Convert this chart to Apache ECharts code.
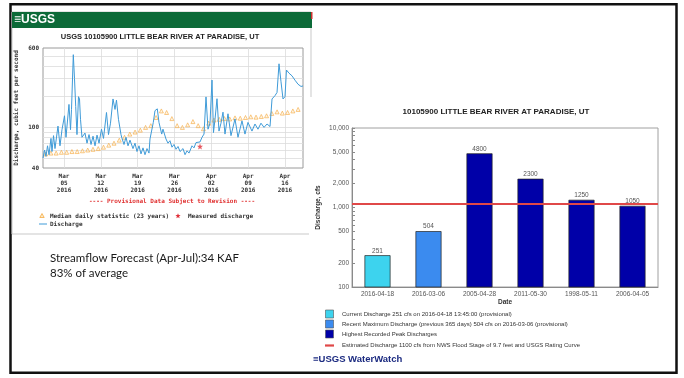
<!DOCTYPE html>
<html>
<head>
<meta charset="utf-8">
<script src="https://cdn.jsdelivr.net/npm/echarts@6/dist/echarts.min.js"></script>
<style>
html,body{margin:0;padding:0;background:#fff;}
#slide{width:684px;height:378px;}
</style>
</head>
<body>
<div id="slide"></div>
<script>
// ---- USGS 10105900 Little Bear River at Paradise, UT ----
// Discharge trace: days since 2016-03-01 00:00, cfs
const flowDays = [0.00,0.29,0.57,0.86,1.14,1.52,1.71,2.00,2.28,2.85,3.23,3.61,4.09,4.37,4.94,5.23,5.42,5.76,5.99,6.22,6.46,6.75,6.94,7.13,7.41,7.60,7.98,8.37,8.75,9.13,9.51,9.89,10.27,10.65,11.12,11.50,12.07,12.45,12.83,13.31,13.69,13.97,14.35,14.83,15.02,15.40,15.78,16.16,16.54,17.11,17.49,17.87,18.25,18.63,19.01,19.39,19.77,20.15,20.34,20.97,21.29,21.62,21.73,22.05,22.57,22.81,23.38,23.76,24.14,24.52,24.90,25.29,25.67,26.05,26.62,27.00,27.38,27.76,28.33,28.71,29.09,29.47,29.85,30.23,30.61,30.99,31.37,31.75,32.13,32.41,32.70,33.08,33.46,33.84,34.22,34.60,35.17,35.74,36.50,37.07,37.83,38.40,38.97,39.73,40.30,40.87,41.44,42.02,42.59,43.16,43.54,44.11,44.49,44.87,45.25,45.63,46.01,46.29,46.77,47.34,47.91,48.48,49.05,49.43];
const flowCfs = [50,60,52,66,54,78,58,83,62,103,66,95,130,80,168,95,150,516,300,160,85,200,190,120,80,77,88,70,85,68,82,66,84,70,96,78,140,85,110,190,150,185,120,85,78,68,80,66,75,62,70,58,66,55,63,54,62,56,77,112,146,140,152,112,86,96,77,70,74,64,68,61,65,58,62,54,59,56,66,63,71,68,72,80,86,199,96,110,291,89,120,191,92,110,141,86,136,83,121,80,116,86,112,92,108,96,110,100,108,102,190,205,220,420,280,190,200,365,340,320,290,265,252,255];

// Median daily statistic (23 years), one value per day starting 2016-03-01
const medianCfs = [55,56,56,57,57,58,58,59,60,61,62,64,67,70,75,80,86,90,94,100,104,125,145,140,122,104,100,106,114,104,97,110,118,120,122,121,124,123,125,127,126,128,130,137,142,138,140,145,150];

// Field measurement
const measuredDays = [29.85];
const measuredCfs = [65];

// Axis ticks for the hydrograph
const weekTickDays = [4, 11, 18, 25, 32, 39, 46];
const weekTickLabels = ['Mar\n05\n2016', 'Mar\n12\n2016', 'Mar\n19\n2016', 'Mar\n26\n2016', 'Apr\n02\n2016', 'Apr\n09\n2016', 'Apr\n16\n2016'];
const flowLabelValues = [40, 100, 600];
const flowGridValues = [50, 60, 70, 80, 90, 100, 200, 300, 400, 500];

// ---- WaterWatch peak-flow comparison ----
const peakDates = ['2016-04-18', '2016-03-06', '2005-04-28', '2011-05-30', '1998-05-11', '2006-04-05'];
const peakCfs = [251, 504, 4800, 2300, 1250, 1050];
const peakKinds = [0, 1, 2, 2, 2, 2];
const kindColors = ['#3dd3ee', '#3b8bef', '#0000a8'];
const floodCfs = 1100;
const peakLabelValues = [100, 200, 500, 1000, 2000, 5000, 10000];
const peakTickValues = [100, 200, 300, 400, 500, 600, 700, 800, 900, 1000, 2000, 3000, 4000, 5000, 6000, 7000, 8000, 9000, 10000];
const peakLegendTexts = [
  'Current Discharge 251 cfs on 2016-04-18 13:45:00 (provisional)',
  'Recent Maximum Discharge (previous 365 days) 504 cfs on 2016-03-06 (provisional)',
  'Highest Recorded Peak Discharges',
  'Estimated Discharge 1100 cfs from NWS Flood Stage of 9.7 feet and USGS Rating Curve'
];

const forecastLines = ['Streamflow Forecast (Apr-Jul):34 KAF', '83% of average'];

const MONO = '"DejaVu Sans Mono", monospace';
const SANS = '"Liberation Sans", Arial, sans-serif';
const flowColor = '#3f9bd8';
const medianColor = '#f5ac45';
const measuredColor = '#e0303a';
const floodColor = '#e04848';

const starPath = 'path://M0,-5L1.3,-1.7L4.8,-1.6L2,0.6L3,4.1L0,2.1L-3,4.1L-2,0.6L-4.8,-1.6L-1.3,-1.7Z';
const starPoints = [[0,-5],[1.3,-1.7],[4.8,-1.6],[2,0.6],[3,4.1],[0,2.1],[-3,4.1],[-2,0.6],[-4.8,-1.6],[-1.3,-1.7]];

const chart = echarts.init(document.getElementById('slide'), null, {renderer: 'canvas'});

const graphics = [
  // slide frame
  {type: 'rect', shape: {x: 10.5, y: 4.2, width: 666, height: 368.5}, style: {fill: 'none', stroke: '#111', lineWidth: 2.5}},
  // hydrograph panel outline
  {type: 'polyline', shape: {points: [[311, 97], [311, 12], [12, 12], [12, 234], [309, 234]]}, style: {fill: 'none', stroke: '#c9c9c9', lineWidth: 1}},
  // USGS banner
  {type: 'rect', shape: {x: 12, y: 12, width: 300, height: 16}, style: {fill: '#0c6a38'}},
  {type: 'rect', shape: {x: 311, y: 12, width: 1.5, height: 7}, style: {fill: '#d03030'}},
  {type: 'text', x: 14, y: 20, style: {text: '\u2261USGS', fill: '#fff', font: 'bold 12px "Liberation Sans Narrow", "Liberation Sans", sans-serif', verticalAlign: 'middle', textAlign: 'left'}},
  {type: 'text', x: 160, y: 37, style: {text: 'USGS 10105900 LITTLE BEAR RIVER AT PARADISE, UT', fill: '#222', font: 'bold 7.5px ' + SANS, textAlign: 'center', verticalAlign: 'middle'}},
  {type: 'text', x: 172, y: 201, style: {text: '---- Provisional Data Subject to Revision ----', fill: '#e03030', font: 'bold 6px ' + MONO, textAlign: 'center', verticalAlign: 'middle'}},
  // hydrograph legend
  {type: 'polygon', shape: {points: [[42, 213.5], [39.8, 217.5], [44.2, 217.5]]}, style: {fill: '#fde9c4', stroke: medianColor, lineWidth: 0.8}},
  {type: 'text', x: 50, y: 216, style: {text: 'Median daily statistic (23 years)', fill: '#333', font: 'bold 6px ' + MONO, verticalAlign: 'middle'}},
  {type: 'polygon', shape: {points: starPoints.map(p => [178 + p[0] * 0.55, 216 + p[1] * 0.55])}, style: {fill: measuredColor}},
  {type: 'text', x: 188, y: 216, style: {text: 'Measured discharge', fill: '#333', font: 'bold 6px ' + MONO, verticalAlign: 'middle'}},
  {type: 'line', shape: {x1: 39, y1: 224, x2: 47, y2: 224}, style: {stroke: flowColor, lineWidth: 1}},
  {type: 'text', x: 50, y: 224, style: {text: 'Discharge', fill: '#333', font: 'bold 6px ' + MONO, verticalAlign: 'middle'}},
  // forecast note
  {type: 'text', x: 50, y: 258, style: {text: forecastLines[0], fill: '#1a1a1a', font: '11.5px Lato, "Open Sans", sans-serif', verticalAlign: 'middle'}},
  {type: 'text', x: 50, y: 273, style: {text: forecastLines[1], fill: '#1a1a1a', font: '11.5px Lato, "Open Sans", sans-serif', verticalAlign: 'middle'}},
  // peak chart title
  {type: 'text', x: 496, y: 112, style: {text: '10105900 LITTLE BEAR RIVER AT PARADISE, UT', fill: '#222', font: 'bold 8px ' + SANS, textAlign: 'center', verticalAlign: 'middle'}},
  // WaterWatch footer
  {type: 'text', x: 313, y: 359, style: {text: '\u2261USGS WaterWatch', fill: '#1b2a80', font: 'bold 9.5px ' + SANS, verticalAlign: 'middle'}}
];

// peak chart legend
const legendY = [314, 324, 334];
for (let i = 0; i < 3; i++) {
  graphics.push({type: 'rect', shape: {x: 325.5, y: legendY[i] - 4, width: 8, height: 8}, style: {fill: kindColors[i], stroke: '#555', lineWidth: 0.6}});
  graphics.push({type: 'text', x: 342, y: legendY[i], style: {text: peakLegendTexts[i], fill: '#333', font: '6px ' + SANS, verticalAlign: 'middle'}});
}
graphics.push({type: 'line', shape: {x1: 325, y1: 345.5, x2: 334, y2: 345.5}, style: {stroke: floodColor, lineWidth: 2.2}});
graphics.push({type: 'text', x: 342, y: 345.5, style: {text: peakLegendTexts[3], fill: '#333', font: '6px ' + SANS, verticalAlign: 'middle'}});

const option = {
  backgroundColor: '#fff',
  animation: false,
  graphic: {elements: graphics},
  grid: [
    {left: 43, top: 48, width: 260, height: 120, show: true, borderColor: '#9a9a9a', borderWidth: 1, backgroundColor: 'transparent'},
    {left: 352, top: 128, width: 306, height: 159, show: true, borderColor: '#a0a0a0', borderWidth: 1, backgroundColor: 'transparent'}
  ],
  xAxis: [
    {
      gridIndex: 0, type: 'value', min: 0, max: 49.43,
      axisLine: {show: false},
      axisTick: {show: false, customValues: weekTickDays},
      axisLabel: {
        customValues: weekTickDays,
        formatter: v => weekTickLabels[weekTickDays.indexOf(Math.round(v))] || '',
        fontFamily: MONO, fontWeight: 'bold', fontSize: 6, lineHeight: 7, color: '#333', margin: 5
      },
      splitLine: {show: true, lineStyle: {color: '#dcdcdc', width: 0.8}}
    },
    {
      gridIndex: 1, type: 'category', data: peakDates,
      axisLine: {show: true, lineStyle: {color: '#8a8a8a'}},
      axisTick: {show: false},
      axisLabel: {fontFamily: SANS, fontSize: 6.5, color: '#555', margin: 4},
      name: 'Date', nameLocation: 'middle', nameGap: 12,
      nameTextStyle: {fontFamily: SANS, fontWeight: 'bold', fontSize: 6.5, color: '#333'}
    }
  ],
  yAxis: [
    {
      gridIndex: 0, type: 'log', logBase: 10, min: 40, max: 600,
      axisLine: {show: false},
      axisTick: {show: false, customValues: flowGridValues},
      axisLabel: {customValues: flowLabelValues, fontFamily: MONO, fontWeight: 'bold', fontSize: 6, color: '#333', margin: 4},
      splitLine: {show: true, lineStyle: {color: '#dcdcdc', width: 0.8}},
      name: 'Discharge, cubic feet per second', nameLocation: 'middle', nameGap: 24,
      nameTextStyle: {fontFamily: MONO, fontWeight: 'bold', fontSize: 6, color: '#333'}
    },
    {
      gridIndex: 1, type: 'log', logBase: 10, min: 100, max: 10000,
      axisLine: {show: true, lineStyle: {color: '#8a8a8a'}},
      axisTick: {show: true, inside: true, length: 3, customValues: peakTickValues, lineStyle: {color: '#8a8a8a'}},
      axisLabel: {customValues: peakLabelValues, formatter: v => Number(v).toLocaleString('en-US'), fontFamily: SANS, fontSize: 6.5, color: '#555', margin: 3},
      splitLine: {show: false},
      name: 'Discharge, cfs', nameLocation: 'middle', nameGap: 30,
      nameTextStyle: {fontFamily: SANS, fontWeight: 'bold', fontSize: 6.5, color: '#333'}
    }
  ],
  series: [
    {
      name: 'Median daily statistic (23 years)', type: 'scatter', xAxisIndex: 0, yAxisIndex: 0,
      data: medianCfs.map((v, i) => [i + 0.5, v]),
      symbol: 'triangle', symbolSize: 4,
      itemStyle: {color: 'rgba(253,233,196,0.5)', borderColor: medianColor, borderWidth: 0.8},
      z: 3
    },
    {
      name: 'Discharge', type: 'line', xAxisIndex: 0, yAxisIndex: 0,
      data: flowDays.map((d, i) => [d, flowCfs[i]]),
      showSymbol: false, symbol: 'none',
      lineStyle: {color: flowColor, width: 1},
      z: 4
    },
    {
      name: 'Measured discharge', type: 'scatter', xAxisIndex: 0, yAxisIndex: 0,
      data: measuredDays.map((d, i) => [d, measuredCfs[i]]),
      symbol: starPath, symbolSize: 6,
      itemStyle: {color: measuredColor},
      z: 5
    },
    {
      name: 'Peak discharge', type: 'bar', xAxisIndex: 1, yAxisIndex: 1,
      data: peakCfs.map((v, i) => ({value: v, itemStyle: {color: kindColors[peakKinds[i]]}})),
      barWidth: 26,
      itemStyle: {borderColor: '#222', borderWidth: 0.7},
      label: {show: true, position: 'top', distance: 1, fontFamily: SANS, fontSize: 6.5, color: '#555'},
      markLine: {
        silent: true, symbol: 'none',
        data: [{yAxis: floodCfs}],
        lineStyle: {color: floodColor, width: 2, type: 'solid'},
        label: {show: false}
      }
    }
  ]
};

chart.setOption(option);
</script>
</body>
</html>
